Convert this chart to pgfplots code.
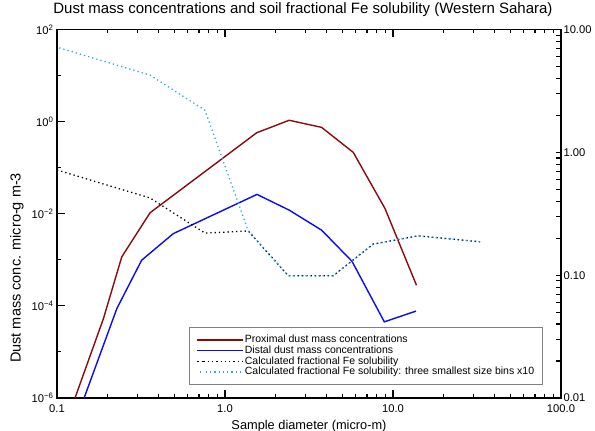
\documentclass[border=0pt]{standalone}
\usepackage{pgfplots}
\pgfplotsset{compat=1.18}
\usepackage{fontspec}
\setmainfont{Liberation Sans}
\definecolor{pred}{RGB}{140,10,10}
\definecolor{dblue}{RGB}{10,10,245}
\definecolor{lcyan}{RGB}{40,170,250}
\definecolor{lgray}{RGB}{128,128,128}
\begin{document}
\begin{tikzpicture}
\useasboundingbox (-57pt,-33pt) rectangle (538pt,398pt);
\begin{axis}[
  at={(0,0)}, anchor=south west,
  width=504pt, height=368.5pt, scale only axis,
  xmode=log, ymode=log,
  xmin=0.1, xmax=100, ymin=1e-6, ymax=100,
  xtick={0.1,1,10,100}, xticklabels={0.1,1.0,10.0,100.0},
  ytick={1e-6,1e-4,1e-2,1,100},
  yticklabels={10\textsuperscript{−6},10\textsuperscript{−4},10\textsuperscript{−2},10\textsuperscript{0},10\textsuperscript{2}},
  minor ytick={1e-5,1e-3,1e-1,10},
  ytick pos=left,
  major tick length=8pt, minor tick length=4pt,
  axis line style={line width=1.2pt},
  every tick/.style={black, line width=1.1pt},
  tick label style={font=\fontsize{11.2}{13}\selectfont},
  xticklabel style={yshift=-3pt},
  title={Dust mass concentrations and soil fractional Fe solubility (Western Sahara)},
  title style={at={(rel axis cs:0.488,1)}, anchor=base, yshift=10.5pt, inner sep=0pt, font=\fontsize{15}{17}\selectfont},
  xlabel={Sample diameter (micro-m)},
  xlabel style={at={(rel axis cs:0.5,0)}, anchor=center, yshift=-28pt, font=\fontsize{12.8}{14}\selectfont},
  ylabel={Dust mass conc. micro-g m-3},
  ylabel style={at={(rel axis cs:0,0.353)}, anchor=center, yshift=40pt, font=\fontsize{14.5}{16}\selectfont},
]
\addplot[pred, line width=1.4pt] coordinates {
 (0.128,1e-6) (0.189,5.3e-5) (0.243,1.16e-3) (0.358,1.05e-2) (1.545,0.574) (2.41,1.07) (3.76,0.75) (5.80,0.215) (8.96,0.013) (13.8,2.8e-4)};
\addplot[dblue, line width=1.4pt] coordinates {
 (0.145,1e-6) (0.227,8.7e-5) (0.319,9.8e-4) (0.492,3.7e-3) (1.55,0.0263) (2.41,0.012) (3.76,4.4e-3) (5.7,9.3e-4) (8.88,4.5e-5) (13.7,7.7e-5)};
\end{axis}
\begin{axis}[
  at={(0,0)}, anchor=south west,
  width=504pt, height=368.5pt, scale only axis,
  xmode=log, ymode=log,
  xmin=0.1, xmax=100, ymin=0.01, ymax=10,
  hide x axis,
  axis y line*=right,
  ytick={0.01,0.1,1,10}, yticklabels={0.01,0.10,1.00,10.00},
  major tick length=5pt, minor tick length=5pt,
  axis line style={line width=1.2pt},
  every tick/.style={black, line width=1.1pt},
  tick label style={font=\fontsize{11.2}{13}\selectfont},
  yticklabel style={xshift=-1pt},
  legend image code/.code={\path (0pt,0pt) -- (6pt,0pt); \draw[#1] (6pt,0pt) -- (46pt,0pt);},
  legend cell align=left,
  legend style={at={(rel axis cs:0.2625,0.1919)}, anchor=north west, draw=lgray, line width=0.8pt,
    font=\fontsize{10.5}{10.7}\selectfont, inner xsep=7pt, inner ysep=7pt, row sep=0pt,
    nodes={inner sep=0.8pt, text height=7.2pt, text depth=1.9pt},
    /tikz/every even column/.append style={column sep=3.6pt},
    /tikz/every odd column/.append style={text width=293pt}},
]
\addlegendimage{pred, line width=1.4pt}
\addlegendentry{Proximal dust mass concentrations}
\addlegendimage{dblue, line width=1.4pt}
\addlegendentry{Distal dust mass concentrations}
\addplot[black, line width=1.3pt, dash pattern=on 1.3pt off 3pt] coordinates {
 (0.1,0.718) (0.358,0.425) (0.76,0.220) (1.376,0.229) (2.38,0.099) (4.41,0.099) (7.62,0.179) (14.1,0.209) (33,0.187)};
\addlegendentry{Calculated fractional Fe solubility}
\addplot[lcyan, line width=1.3pt, dash pattern=on 1.3pt off 3pt, dash phase=2pt] coordinates {
 (0.1,7.18) (0.358,4.25) (0.76,2.20) (1.376,0.229) (2.38,0.099) (4.41,0.099) (7.62,0.179) (14.1,0.209) (33,0.187)};
\addlegendentry{Calculated fractional Fe solubility: three smallest size bins x10}
\end{axis}
\end{tikzpicture}
\end{document}
